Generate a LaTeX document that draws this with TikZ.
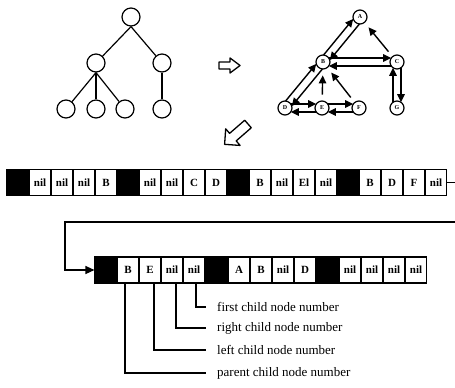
\documentclass[tikz,border=0pt]{standalone}
\usepackage{fontspec}
\setmainfont{Liberation Serif}
\usetikzlibrary{arrows.meta,calc}

\tikzset{
  treenode/.style={circle, draw, line width=1.2pt, minimum size=18pt, inner sep=0pt},
  treeedge/.style={line width=1.2pt},
  gnode/.style={circle, draw, line width=1.2pt, minimum size=14pt, inner sep=0pt, font=\fontsize{6}{6}\selectfont\bfseries},
  garrow/.style={-{Triangle[length=8pt,width=7.5pt]}, line width=1.4pt, shorten >=5.8pt, shorten <=5.8pt},
  cell/.style={draw, line width=1.1pt, minimum width=21pt, minimum height=26pt, inner sep=0pt, font=\fontsize{11}{11}\selectfont\bfseries},
  block/.style={cell, minimum width=22pt, fill=black},
  hollow/.style={line width=1.3pt, line join=round},
  note/.style={anchor=west, inner sep=0pt, font=\fontsize{13}{13}\selectfont},
  noteline/.style={line width=1.1pt, shorten >=11pt},
}

% two arrows between a pair of nodes, one each way
\newcommand{\pairoff}{4pt}
\newcommand{\pairedge}[2]{%
  \draw[garrow] ($(#1)!\pairoff!90:(#2)$) -- ($(#2)!\pairoff!-90:(#1)$);
  \draw[garrow] ($(#2)!\pairoff!90:(#1)$) -- ($(#1)!\pairoff!-90:(#2)$);}

\begin{document}
\begin{tikzpicture}[x=1pt, y=-1pt]
\useasboundingbox (0,0) rectangle (455,388);
\newcommand{\cellw}{22} % cell pitch

% tree
\node[treenode] (root) at (131,17) {};
\node[treenode] (mid1) at (96,63) {};
\node[treenode] (mid2) at (162,63) {};
\foreach \n/\x in {1/66, 2/96, 3/125, 4/162}
  \node[treenode] (leaf\n) at (\x,109) {};
\draw[treeedge] (root.south) -- (mid1);
\draw[treeedge] (root.south) -- (mid2);
\foreach \n in {1,2,3}
  \draw[treeedge] (mid1.south) -- (leaf\n);
\draw[treeedge] (mid2) -- (leaf4);

% hollow arrows
\draw[hollow] (219,62) -- (230,62) -- (230,58) -- (240,65.5) -- (230,73) -- (230,69) -- (219,69) -- cycle;
\begin{scope}[shift={(248,124)}, rotate=221]
  \draw[hollow] (0,-5) -- (20,-5) -- (20,-11) -- (31,0) -- (20,11) -- (20,5) -- (0,5) -- cycle;
\end{scope}

% graph
\node[gnode] (A) at (360,17) {A};
\node[gnode] (B) at (323,62) {B};
\node[gnode] (C) at (397,62) {C};
\node[gnode] (D) at (285,108) {D};
\node[gnode] (E) at (322,108) {E};
\node[gnode] (F) at (359,108) {F};
\node[gnode] (G) at (397,108) {G};
\pairedge{B}{A}
\pairedge{B}{C}
\pairedge{C}{G}
\pairedge{D}{B}
\pairedge{D}{E}
\pairedge{E}{F}
\draw[garrow] (C) -- (A);
\draw[garrow] (E) -- (B);
\draw[garrow] (F) -- (B);

% first array
\foreach \g/\a/\b/\c/\d in {0/nil/nil/nil/B, 1/nil/nil/C/D, 2/B/nil/El/nil, 3/B/D/F/nil}{
  \node[block] (r1-\g-0) at (18+110*\g,182.5) {};
  \foreach \txt [count=\j] in {\a,\b,\c,\d}
    \node[cell] (r1-\g-\j) at (18+110*\g+\cellw*\j,182.5) {\txt};
}

% second array
\foreach \g/\a/\b/\c/\d in {0/B/E/nil/nil, 1/A/B/nil/D, 2/nil/nil/nil/nil}{
  \node[block] (r2-\g-0) at (106+111*\g,270) {};
  \foreach \txt [count=\j] in {\a,\b,\c,\d}
    \node[cell] (r2-\g-\j) at (106+111*\g+\cellw*\j,270) {\txt};
}

% link between the arrays
\coordinate (loop) at (65,222);
\draw[line width=1.2pt, -{Triangle[length=9pt,width=8pt]}] (r1-3-4.east) -- ++(12,0) |- (loop) |- (r2-0-0.west);

% field notes
\node[note] (lfirst) at (217,307) {first child node number};
\node[note] (lright) at (217,328) {right child node number};
\node[note] (lleft) at (217,350) {left child node number};
\node[note] (lparent) at (217,373) {parent child node number};
\draw[noteline] ([xshift=2pt]r2-0-4.south) |- (lfirst.west);
\draw[noteline] ([xshift=4pt]r2-0-3.south) |- (lright.west);
\draw[noteline] ([xshift=4pt]r2-0-2.south) |- (lleft.west);
\draw[noteline] ([xshift=-3pt]r2-0-1.south) |- (lparent.west);
\end{tikzpicture}
\end{document}
